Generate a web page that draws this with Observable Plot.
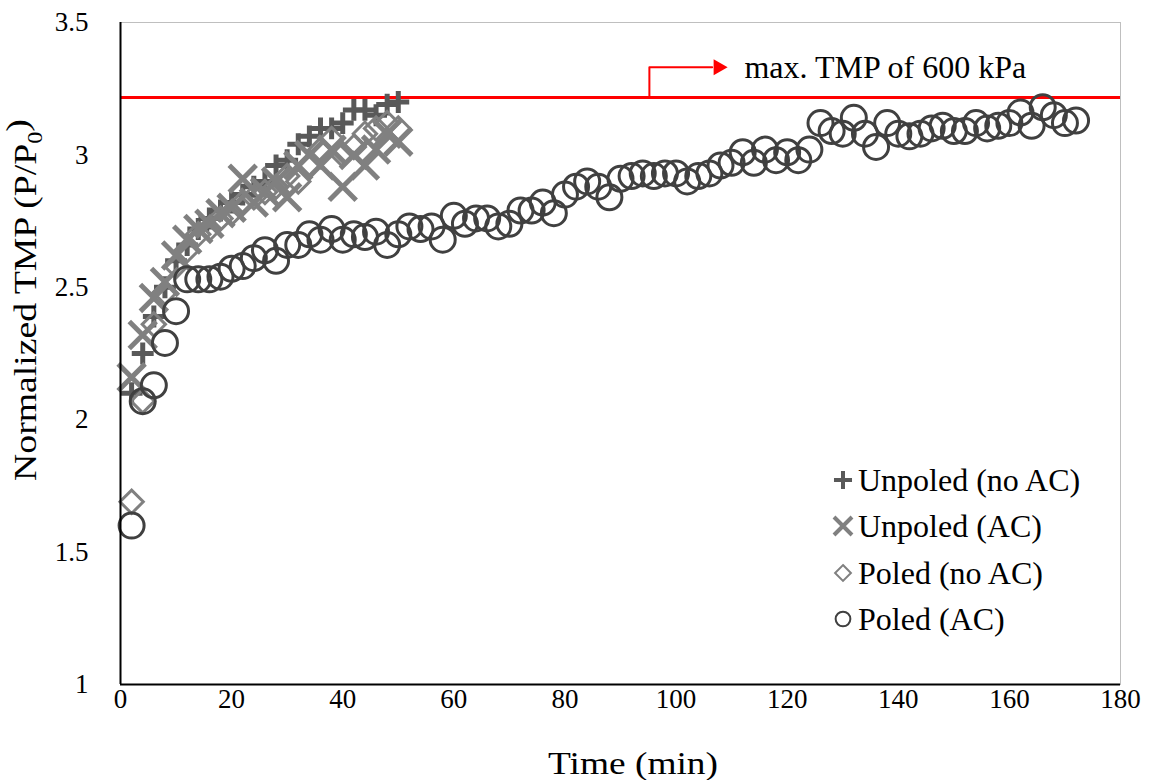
<!DOCTYPE html>
<html>
<head>
<meta charset="utf-8">
<script src="https://cdn.jsdelivr.net/npm/d3@7"></script>
<script src="https://cdn.jsdelivr.net/npm/@observablehq/plot@0.6"></script>
<style>
  html, body { margin: 0; padding: 0; background: #fff; }
  #chart { width: 1153px; height: 780px; }
</style>
</head>
<body>
<div id="chart"></div>
<script>
// Sampling times (min) for the three short runs
const timeShort = [2, 4, 6, 8, 10, 12, 14, 16, 18, 20, 22, 24, 26, 28, 30, 32, 34, 36, 38, 40, 42, 44, 46, 48, 50];
// Normalized TMP (P/P0) per run
const unpoledNoAC = [2.10, 2.25, 2.39, 2.50, 2.60, 2.66, 2.72, 2.76, 2.79, 2.82, 2.85, 2.88, 2.90, 2.96, 2.98, 3.04, 3.07, 3.10, 3.10, 3.12, 3.17, 3.17, 3.15, 3.19, 3.20];
const unpoledAC   = [2.16, 2.32, 2.46, 2.52, 2.62, 2.68, 2.72, 2.74, 2.78, 2.80, 2.91, 2.82, 2.86, 2.90, 2.84, 2.96, 3.00, 2.96, 3.02, 2.88, 3.00, 2.96, 3.02, 3.08, 3.05];
const poledNoAC   = [1.69, 2.07, 2.36, 2.48, 2.58, 2.64, 2.70, 2.72, 2.76, 2.78, 2.82, 2.84, 2.86, 2.88, 2.92, 2.90, 2.96, 3.02, 3.06, 3.00, 3.03, 3.08, 3.10, 3.12, 3.10];

// Long run with alternating current on the poled membrane
const timeLong = [2, 4, 6, 8, 10, 12, 14, 16, 18, 20, 22, 24, 26, 28, 30, 32, 34, 36, 38, 40, 42, 44, 46, 48, 50,
  52, 54, 56, 58, 60, 62, 64, 66, 68, 70, 72, 74, 76, 78, 80, 82, 84, 86, 88, 90, 92, 94, 96, 98, 100,
  102, 104, 106, 108, 110, 112, 114, 116, 118, 120, 122, 124, 126, 128, 130, 132, 134, 136, 138, 140,
  142, 144, 146, 148, 150, 152, 154, 156, 158, 160, 162, 164, 166, 168, 170, 172];
const poledAC = [1.60, 2.07, 2.13, 2.29, 2.41, 2.53, 2.53, 2.53, 2.54, 2.57, 2.58, 2.61, 2.64, 2.60, 2.66, 2.66, 2.70, 2.68, 2.72, 2.68, 2.70, 2.69, 2.71, 2.66, 2.70,
  2.73, 2.72, 2.73, 2.68, 2.77, 2.74, 2.76, 2.76, 2.73, 2.74, 2.79, 2.79, 2.82, 2.78, 2.85, 2.88, 2.90, 2.88, 2.84, 2.91, 2.92, 2.93, 2.92, 2.93, 2.93,
  2.90, 2.92, 2.93, 2.96, 2.97, 3.01, 2.97, 3.02, 2.98, 3.01, 2.98, 3.02, 3.12, 3.09, 3.08, 3.14, 3.08, 3.03, 3.12, 3.08,
  3.07, 3.08, 3.10, 3.11, 3.09, 3.09, 3.12, 3.10, 3.11, 3.12, 3.16, 3.11, 3.18, 3.15, 3.12, 3.13];

// Axis ticks
const xTicks = [0, 20, 40, 60, 80, 100, 120, 140, 160, 180];
const yTicks = [1, 1.5, 2, 2.5, 3, 3.5];

// Pressure limit and its note
const maxTMP = 3.217;
const noteText = "max. TMP of 600 kPa";
const noteElbow = [{t: 95.2, v: maxTMP}, {t: 95.2, v: 3.331}, {t: 106.5, v: 3.331}];
const noteTip = [{t: 107.6, v: 3.331}];
const noteLabel = [{t: 112.3, v: 3.331}];

const seriesNames = ["Unpoled (no AC)", "Unpoled (AC)", "Poled (no AC)", "Poled (AC)"];

const toRows = (ts, vs) => ts.map((t, i) => ({t, v: vs[i]}));
const rowsUnpoledNoAC = toRows(timeShort, unpoledNoAC);
const rowsUnpoledAC = toRows(timeShort, unpoledAC);
const rowsPoledNoAC = toRows(timeShort, poledNoAC);
const rowsPoledAC = toRows(timeLong, poledAC);

const serif = "'Liberation Serif', 'Times New Roman', Times, serif";
const RED = "#ff0000";

const chart = Plot.plot({
  width: 1153,
  height: 780,
  marginLeft: 120,
  marginRight: 33,
  marginTop: 22,
  marginBottom: 96,
  style: {fontFamily: serif, fontSize: "26px", color: "#000", background: "#fff", overflow: "visible"},
  x: {domain: [0, 180]},
  y: {domain: [1, 3.5]},
  marks: [
    Plot.frame({stroke: "#bfbfbf", strokeWidth: 1}),
    Plot.axisX(xTicks, {tickSize: 0, tickPadding: 4, label: null, tickFormat: d => String(d), fontSize: 27, fontFamily: serif, fontVariant: "normal"}),
    Plot.axisY(yTicks, {tickSize: 0, tickPadding: 32, label: null, tickFormat: d => String(d), fontSize: 27, fontFamily: serif, fontVariant: "normal"}),
    Plot.ruleY([maxTMP], {stroke: RED, strokeWidth: 3}),
    Plot.line(noteElbow, {x: "t", y: "v", stroke: RED, strokeWidth: 2}),
    Plot.dot(noteTip, {x: "t", y: "v", symbol: "triangle", rotate: 90, r: 6, fill: RED, stroke: "none"}),
    Plot.text(noteLabel, {x: "t", y: "v", text: () => noteText, textAnchor: "start", fontSize: 32, fontFamily: serif, fill: "#000"}),
    Plot.dot(rowsUnpoledNoAC, {x: "t", y: "v", symbol: "plus", r: 7.1, stroke: "#595959", strokeWidth: 5, fill: "none"}),
    Plot.dot(rowsUnpoledAC, {x: "t", y: "v", symbol: "times", r: 12.3, stroke: "#808080", strokeWidth: 5, fill: "none"}),
    Plot.dot(rowsPoledNoAC, {x: "t", y: "v", symbol: "diamond2", r: 10.5, stroke: "#808080", strokeWidth: 3, fill: "none"}),
    Plot.dot(rowsPoledAC, {x: "t", y: "v", symbol: "circle", r: 12.5, stroke: "#404040", strokeWidth: 3, fill: "none"}),
    Plot.ruleX([0], {stroke: "#000", strokeWidth: 2}),
    Plot.ruleY([1], {stroke: "#000", strokeWidth: 2})
  ]
});

document.getElementById("chart").appendChild(chart);
const svg = d3.select(chart);

// Axis titles
svg.append("text")
  .attr("x", 633).attr("y", 763)
  .attr("text-anchor", "middle")
  .attr("dy", "0.35em")
  .attr("font-family", serif)
  .attr("font-size", 31)
  .attr("textLength", 170)
  .attr("lengthAdjust", "spacingAndGlyphs")
  .attr("fill", "#000")
  .text("Time (min)");

const yTitle = svg.append("text")
  .attr("text-anchor", "middle")
  .attr("dy", "0.35em")
  .attr("font-family", serif)
  .attr("font-size", 31)
  .attr("fill", "#000");
yTitle.append("tspan").text("Normalized TMP (P/P");
yTitle.append("tspan").attr("font-size", 20).attr("dy", "0.3em").text("0");
yTitle.append("tspan").attr("dy", "-0.45em").text(")");
// stretch the rotated title along the axis so it spans the reading length
const yLen = yTitle.node().getBBox().width || 300;
yTitle.attr("transform", `translate(25,300) rotate(-90) scale(${362 / yLen},1)`);

// Legend inside the plot area
const legendSymbols = [
  {type: d3.symbolPlus, size: 108, stroke: "#595959", width: 4},
  {type: d3.symbolTimes, size: 213, stroke: "#808080", width: 4},
  {type: d3.symbolDiamond2, size: 160, stroke: "#808080", width: 2},
  {type: d3.symbolCircle, size: 170, stroke: "#404040", width: 2}
];
const legendRowY = [480, 526, 573, 619];
const legend = svg.append("g");
seriesNames.forEach((name, i) => {
  const s = legendSymbols[i];
  legend.append("path")
    .attr("transform", `translate(843,${legendRowY[i]})`)
    .attr("d", d3.symbol().type(s.type).size(s.size)())
    .attr("fill", "none")
    .attr("stroke", s.stroke)
    .attr("stroke-width", s.width);
  legend.append("text")
    .attr("x", 858).attr("y", legendRowY[i])
    .attr("dy", "0.35em")
    .attr("text-anchor", "start")
    .attr("font-family", serif)
    .attr("font-size", 32)
    .attr("fill", "#000")
    .text(name);
});
</script>
</body>
</html>
